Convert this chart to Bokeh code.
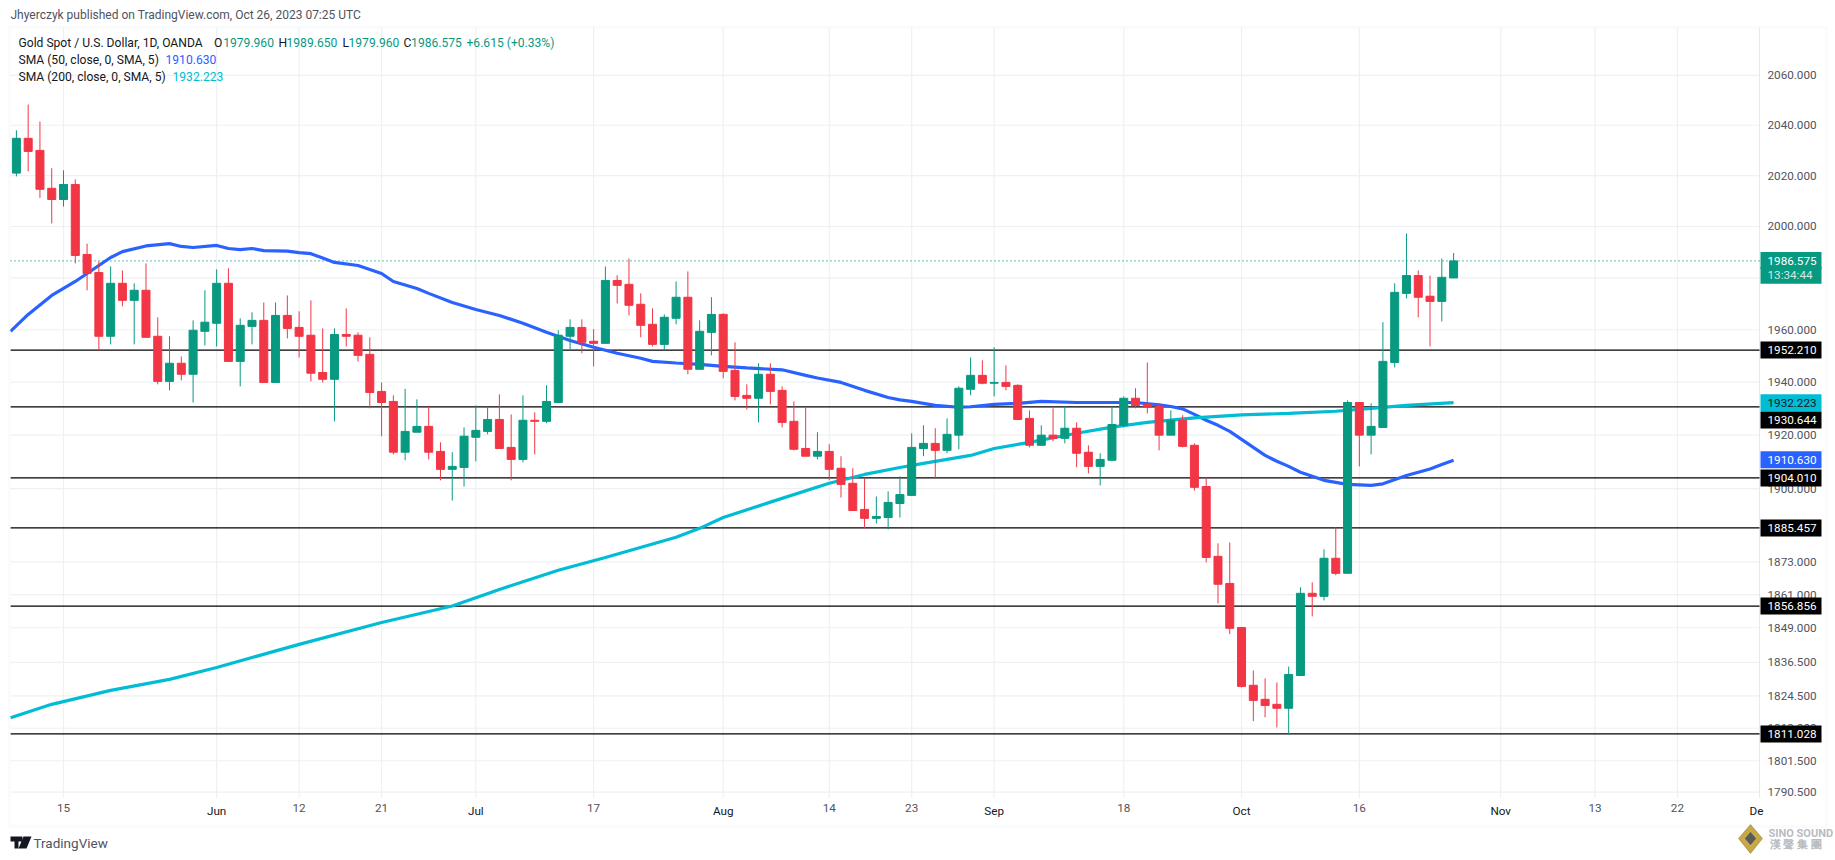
from bokeh.embed import file_html
from bokeh.models import (BoxAnnotation, ColumnDataSource, FixedTicker, Label, LinearAxis,
                          NumeralTickFormatter, PolyAnnotation, Range1d)
from bokeh.plotting import figure
from bokeh.resources import INLINE

opens = [2021.0, 2034.8, 2030.0, 2015.0, 2010.6, 2016.5, 1989.1, 1982.1, 1957.5, 1977.9,
         1971.3, 1975.2, 1957.5, 1940.3, 1947.2, 1943.0, 1959.4, 1962.5, 1977.9, 1947.9,
         1961.3, 1963.6, 1939.9, 1965.5, 1960.9, 1957.9, 1943.7, 1941.1, 1958.2, 1957.9,
         1950.6, 1936.5, 1932.7, 1913.6, 1921.1, 1923.3, 1913.9, 1907.2, 1907.9, 1919.2,
         1921.4, 1925.9, 1915.4, 1910.9, 1925.6, 1925.2, 1932.3, 1957.5, 1960.9, 1955.6,
         1954.8, 1979.0, 1977.5, 1969.8, 1962.1, 1954.4, 1964.4, 1972.5, 1944.9, 1959.0,
         1965.9, 1944.5, 1935.0, 1933.9, 1943.0, 1936.9, 1925.2, 1915.0, 1912.1, 1913.9,
         1907.6, 1902.0, 1892.3, 1889.0, 1889.3, 1894.5, 1897.5, 1915.0, 1916.9, 1914.3,
         1920.0, 1937.3, 1942.6, 1939.6, 1939.9, 1938.8, 1926.3, 1916.2, 1920.0, 1918.8,
         1922.6, 1913.6, 1908.3, 1910.6, 1923.7, 1933.9, 1931.6, 1930.8, 1920.0, 1925.6,
         1916.2, 1900.8, 1875.0, 1865.1, 1849.1, 1828.3, 1823.3, 1821.5, 1820.1, 1831.8,
         1861.5, 1860.4, 1874.3, 1868.8, 1932.3, 1920.0, 1922.9, 1947.5, 1974.0, 1980.9,
         1972.9, 1970.9, 1979.96]
highs = [2038.0, 2048.3, 2041.5, 2022.9, 2022.1, 2018.5, 1993.3, 1986.4, 1984.4, 1982.9,
         1977.9, 1985.6, 1964.8, 1957.5, 1949.8, 1963.6, 1975.2, 1983.3, 1983.7, 1964.4,
         1966.7, 1970.5, 1970.5, 1973.2, 1967.1, 1971.3, 1960.5, 1960.5, 1968.2, 1959.0,
         1957.1, 1939.9, 1935.0, 1937.5, 1933.5, 1930.8, 1917.3, 1913.6, 1922.9, 1931.2,
         1930.8, 1935.4, 1927.8, 1935.0, 1928.6, 1938.8, 1959.8, 1964.0, 1964.0, 1960.2,
         1984.4, 1981.0, 1987.5, 1974.0, 1968.2, 1965.9, 1978.6, 1982.5, 1963.6, 1972.5,
         1966.3, 1955.2, 1939.2, 1947.2, 1947.2, 1938.4, 1932.7, 1930.5, 1921.1, 1916.6,
         1912.1, 1907.6, 1903.8, 1897.1, 1899.0, 1904.6, 1920.7, 1923.7, 1922.6, 1926.3,
         1938.4, 1949.4, 1948.3, 1953.3, 1946.4, 1939.2, 1929.3, 1923.7, 1930.1, 1930.8,
         1924.8, 1916.2, 1913.2, 1930.8, 1934.6, 1937.7, 1947.5, 1932.0, 1929.3, 1927.5,
         1916.9, 1904.2, 1879.8, 1880.1, 1849.1, 1833.6, 1830.8, 1829.3, 1835.0, 1863.7,
         1865.5, 1877.6, 1885.7, 1933.1, 1932.3, 1932.0, 1962.9, 1977.9, 1997.3, 1982.9,
         1980.9, 1987.5, 1989.65]
lows = [2019.7, 2021.7, 2011.2, 2001.2, 2007.8, 1985.6, 1975.2, 1952.1, 1954.4, 1969.0,
        1954.4, 1957.1, 1939.2, 1936.9, 1940.7, 1932.3, 1954.0, 1953.6, 1947.9, 1938.4,
        1954.4, 1939.9, 1939.9, 1956.7, 1949.4, 1940.3, 1939.9, 1925.2, 1953.6, 1947.9,
        1930.1, 1919.6, 1912.8, 1910.6, 1921.1, 1910.9, 1903.1, 1895.6, 1900.8, 1910.2,
        1920.3, 1915.0, 1903.1, 1909.8, 1912.8, 1924.5, 1932.3, 1952.5, 1951.0, 1946.0,
        1954.8, 1970.1, 1965.5, 1957.1, 1953.6, 1952.1, 1962.1, 1943.0, 1944.9, 1950.2,
        1941.5, 1933.1, 1929.7, 1924.8, 1931.6, 1922.9, 1914.3, 1912.1, 1910.9, 1903.1,
        1896.7, 1891.9, 1885.3, 1887.1, 1884.9, 1889.3, 1897.5, 1912.1, 1903.8, 1913.2,
        1914.7, 1935.0, 1939.2, 1934.6, 1936.9, 1925.6, 1915.4, 1916.2, 1917.7, 1916.9,
        1908.0, 1905.7, 1901.2, 1910.2, 1922.9, 1930.1, 1928.2, 1914.3, 1920.0, 1915.4,
        1899.3, 1872.8, 1857.8, 1846.7, 1827.5, 1815.5, 1816.9, 1813.3, 1811.0, 1831.8,
        1853.1, 1858.9, 1868.1, 1868.8, 1908.3, 1912.8, 1922.9, 1945.6, 1972.1, 1964.8,
        1953.6, 1963.2, 1979.96]
closes = [2034.8, 2029.6, 2014.6, 2010.6, 2016.5, 1988.7, 1981.7, 1957.5, 1977.9, 1971.3,
          1975.2, 1957.1, 1940.3, 1947.2, 1943.0, 1959.8, 1962.9, 1977.9, 1947.9, 1961.7,
          1963.6, 1939.9, 1965.5, 1960.5, 1957.5, 1943.4, 1941.1, 1958.2, 1957.5, 1950.2,
          1936.1, 1932.3, 1913.6, 1921.4, 1923.3, 1913.6, 1907.2, 1908.3, 1919.6, 1921.8,
          1925.9, 1915.0, 1910.9, 1925.6, 1925.2, 1932.7, 1957.9, 1960.9, 1955.2, 1954.8,
          1979.0, 1977.1, 1969.4, 1961.7, 1954.4, 1964.8, 1972.5, 1944.9, 1959.4, 1965.9,
          1944.1, 1934.6, 1933.9, 1943.0, 1936.5, 1924.8, 1914.7, 1912.1, 1913.9, 1907.2,
          1901.6, 1891.9, 1889.0, 1889.7, 1894.9, 1897.8, 1915.4, 1916.9, 1914.3, 1920.3,
          1937.7, 1942.6, 1939.6, 1939.9, 1938.4, 1925.9, 1916.2, 1920.0, 1918.8, 1922.6,
          1913.2, 1908.3, 1910.9, 1924.0, 1933.9, 1931.2, 1930.5, 1920.0, 1925.6, 1915.8,
          1900.5, 1874.6, 1864.8, 1848.8, 1827.9, 1822.9, 1821.1, 1820.1, 1832.2, 1861.5,
          1860.4, 1874.3, 1868.8, 1932.3, 1920.0, 1923.3, 1947.9, 1974.4, 1980.9, 1972.5,
          1970.9, 1980.2, 1986.575]

sma50_at = [-0.5, 1, 3, 5, 6, 8, 9, 11, 13, 14, 15, 17, 18, 19, 20, 21, 23, 24, 25, 26, 27, 29, 31, 32,
            34, 35, 37, 39, 41, 43, 45, 47, 49, 51, 53, 54, 56, 58, 60, 62, 65, 67, 68, 70, 72, 74,
            75, 76, 78, 80, 81, 83, 85, 87, 90, 93, 95, 97, 98, 99, 100, 101, 102, 103, 104, 105,
            106, 107, 108, 109, 110, 111, 113, 115, 116, 118, 120, 121, 122]
sma50 = [1959.4, 1965.9, 1973.2, 1978.6, 1981.7, 1987.9, 1990.2, 1992.4, 1993.3, 1992.2, 1991.8,
         1992.6, 1991.4, 1991.0, 1991.4, 1990.6, 1990.4, 1989.8, 1989.4, 1987.7, 1986.0, 1984.8,
         1981.7, 1978.6, 1975.9, 1974.0, 1970.5, 1967.8, 1965.5, 1962.5, 1959.0, 1955.9, 1953.3,
         1951.0, 1949.1, 1947.9, 1947.3, 1946.8, 1946.0, 1945.4, 1944.7, 1942.6, 1941.6, 1939.9,
         1936.9, 1934.2, 1933.3, 1932.7, 1931.2, 1930.5, 1930.7, 1931.6, 1932.0, 1932.7, 1932.3,
         1932.3, 1932.3, 1931.4, 1930.8, 1929.9, 1927.8, 1925.6, 1923.7, 1921.4, 1918.4, 1915.4,
         1912.4, 1910.2, 1908.3, 1906.1, 1904.6, 1903.1, 1901.6, 1901.2, 1901.8, 1904.9, 1907.3,
         1909.0, 1910.63]
sma200_at = [-0.5, 3, 8, 13, 17, 24, 31, 37, 41, 46, 50, 56, 58, 60, 64, 69, 72, 75, 77, 81, 83, 86, 90,
             93, 96, 100, 104, 108, 112, 115, 118, 122]
sma200 = [1816.7, 1821.5, 1826.5, 1830.4, 1834.7, 1843.0, 1850.9, 1856.9, 1862.9, 1869.9, 1874.6,
          1882.0, 1885.3, 1889.3, 1895.0, 1902.0, 1905.3, 1907.9, 1909.4, 1912.4, 1915.0, 1917.3,
          1920.7, 1923.0, 1924.8, 1926.5, 1927.6, 1928.2, 1929.0, 1930.1, 1931.2, 1932.223]

levels = [1952.21, 1930.644, 1904.01, 1885.457, 1856.856, 1811.028]
last_price = 1986.575

y_ticks = [2060, 2040, 2020, 2000, 1980, 1960, 1940, 1920, 1900, 1873, 1861, 1849, 1836.5, 1824.5,
           1813, 1801.5, 1790.5]
day_ticks = [4, 24, 31, 49, 69, 76, 94, 114, 134, 141]
day_labels = ["15", "12", "21", "17", "14", "23", "18", "16", "13", "22"]
month_ticks = [17, 39, 60, 83, 104, 126]
month_labels = ["Jun", "Jul", "Aug", "Sep", "Oct", "Nov"]

GREEN = "#089981"
RED = "#f23645"
BLUE = "#2962ff"
CYAN = "#00bcd4"
GRID = "#eef0f4"
BORDER = "#f0f3fa"
TEXT = "#131722"
MUTED = "#50535e"
FONT = "Roboto"
W, H = 1835, 860
# edges of the price pane, in data
X0, X1 = -0.5, 147.97
Y0, Y1 = 1788.6, 2079.4


def sy(y):
    # annotations count screen y up from the frame bottom
    return H - y


# the frame fills the canvas so that annotations outside the pane are not clipped
p = figure(width=W, height=H, output_backend="svg", toolbar_location=None,
           y_axis_type="log", y_axis_location="right",
           x_range=Range1d(-1.349, 154.42), y_range=Range1d(1766.69, 2090.41),
           min_border_left=0, min_border_right=0, min_border_top=0, min_border_bottom=0,
           outline_line_color=None, background_fill_color="white", border_fill_color="white")
p.grid.visible = False

p.yaxis.fixed_location = X1
p.yaxis.bounds = (Y0, Y1)
p.yaxis.ticker = FixedTicker(ticks=y_ticks)
p.yaxis.formatter = NumeralTickFormatter(format="0.000")
p.xaxis.fixed_location = Y0
p.xaxis.bounds = (X0, X1)
p.xaxis.ticker = FixedTicker(ticks=day_ticks)
p.xaxis.major_label_overrides = dict(zip(day_ticks, day_labels))
month_axis = LinearAxis(fixed_location=Y0, bounds=(X0, X1), ticker=FixedTicker(ticks=month_ticks),
                        major_label_overrides=dict(zip(month_ticks, month_labels)))
p.add_layout(month_axis, "below")
for ax in [p.xaxis[0], p.yaxis[0], month_axis]:
    ax.minor_tick_line_color = None
    ax.major_tick_line_color = None
    ax.major_tick_out = 0
    ax.axis_line_color = None
    ax.major_label_text_font = FONT
    ax.major_label_text_font_size = "11.7px"
    ax.major_label_text_color = MUTED
month_axis.major_label_text_color = TEXT
p.yaxis.major_label_standoff = 8
p.xaxis.major_label_standoff = 6
month_axis.major_label_standoff = 6

# grid and pane edge
p.segment(X0, y_ticks, X1, y_ticks, line_color=GRID, line_width=1.2)
p.segment(day_ticks + month_ticks, Y0, day_ticks + month_ticks, Y1, line_color=GRID, line_width=1.2)
p.segment(X1, Y0, X1, Y1, line_color="#e6e9ef", line_width=1)

p.segment(X0, levels, X1, levels, line_color="black", line_width=1.3)
p.segment(X0, last_price, X1, last_price, line_color=GREEN, line_width=1.2, line_dash="1 3")
p.line(sma50_at, sma50, line_color=BLUE, line_width=3.2)
p.line(sma200_at, sma200, line_color=CYAN, line_width=3.2)

up = [c >= o for o, c in zip(opens, closes)]
src = ColumnDataSource(dict(
    i=list(range(len(opens))),
    high=highs,
    low=lows,
    top=[max(o, c) for o, c in zip(opens, closes)],
    bottom=[min(o, c) for o, c in zip(opens, closes)],
    color=[GREEN if u else RED for u in up],
))
p.segment("i", "high", "i", "low", color="color", line_width=1, source=src)
p.vbar(x="i", top="top", bottom="bottom", width=0.68, fill_color="color", line_color="color",
       line_width=1, source=src)


def text(x, y, s, color=TEXT, size="12.1px", style="normal"):
    p.add_layout(Label(x=x, y=sy(y), x_units="screen", y_units="screen", text=s,
                       text_color=color, text_font=FONT, text_font_size=size,
                       text_font_style=style, text_baseline="middle"))


def box(x0, x1, y0, y1, **kw):
    p.add_layout(BoxAnnotation(left=x0, right=x1, top=sy(y0), bottom=sy(y1),
                               left_units="screen", right_units="screen", top_units="screen",
                               bottom_units="screen", **kw))


def poly(xs, ys, **kw):
    p.add_layout(PolyAnnotation(xs=xs, ys=[sy(y) for y in ys],
                                xs_units="screen", ys_units="screen", **kw))


def tag(y, s, bg, fg="white"):
    box(1760, 1821, y - 8.5, y + 8.5, fill_color=bg, fill_alpha=1, line_color=None)
    text(1767, y, s, fg, "11.7px")


# pane border
box(9, 1826, 27, 826, fill_alpha=0, line_color=BORDER, line_width=3)

text(10, 14.5, "Jhyerczyk published on TradingView.com, Oct 26, 2023 07:25 UTC", MUTED, "12px")
text(18, 42, "Gold Spot / U.S. Dollar, 1D, OANDA")
for x, s in [(213.5, "O"), (278, "H"), (342, "L"), (403, "C")]:
    text(x, 42, s)
for x, s in [(222.7, "1979.960"), (286, "1989.650"), (348, "1979.960"), (410.6, "1986.575"),
             (466, "+6.615 (+0.33%)")]:
    text(x, 42, s, GREEN)
text(18, 59, "SMA (50, close, 0, SMA, 5)")
text(165, 59, "1910.630", BLUE)
text(18, 76, "SMA (200, close, 0, SMA, 5)")
text(172, 76, "1932.223", CYAN)

tag(274.7, "13:34:44", GREEN, "#cfe9e4")
tag(260, "1986.575", GREEN)
tag(349.6, "1952.210", "black")
tag(402.3, "1932.223", CYAN, TEXT)
tag(419.4, "1930.644", "black")
tag(459.3, "1910.630", BLUE)
tag(477.6, "1904.010", "black")
tag(527.5, "1885.457", "black")
tag(605.4, "1856.856", "black")
tag(733.4, "1811.028", "black")

text(1749, 810, "De", TEXT, "11.7px")

# TradingView mark
poly([10, 22, 22, 18, 18, 14, 14, 10], [836, 836, 841, 841, 848, 848, 841, 841],
     fill_color=TEXT, fill_alpha=1, line_color=None)
poly([23, 31, 26, 18], [836, 836, 848, 848], fill_color=TEXT, fill_alpha=1, line_color=None)
text(33, 842.5, "TradingView", MUTED, "13.5px")

# Sino Sound mark
poly([1750, 1762, 1750, 1738], [824, 838, 853, 838], fill_color="#c9a93f", fill_alpha=1,
     line_color="#3d3d3d", line_width=1)
poly([1750, 1756, 1750, 1744], [831, 838, 845, 838], fill_color="#5b5b4f", fill_alpha=1,
     line_color="#eeeeee", line_width=1)
text(1768, 833, "SINO SOUND", "#b9bcc0", "11px", "bold")
text(1769, 843.5, "漢 聲 集 團", "#b9bcc0", "11px", "bold")

open("out.html", "w").write(file_html(p, INLINE))
